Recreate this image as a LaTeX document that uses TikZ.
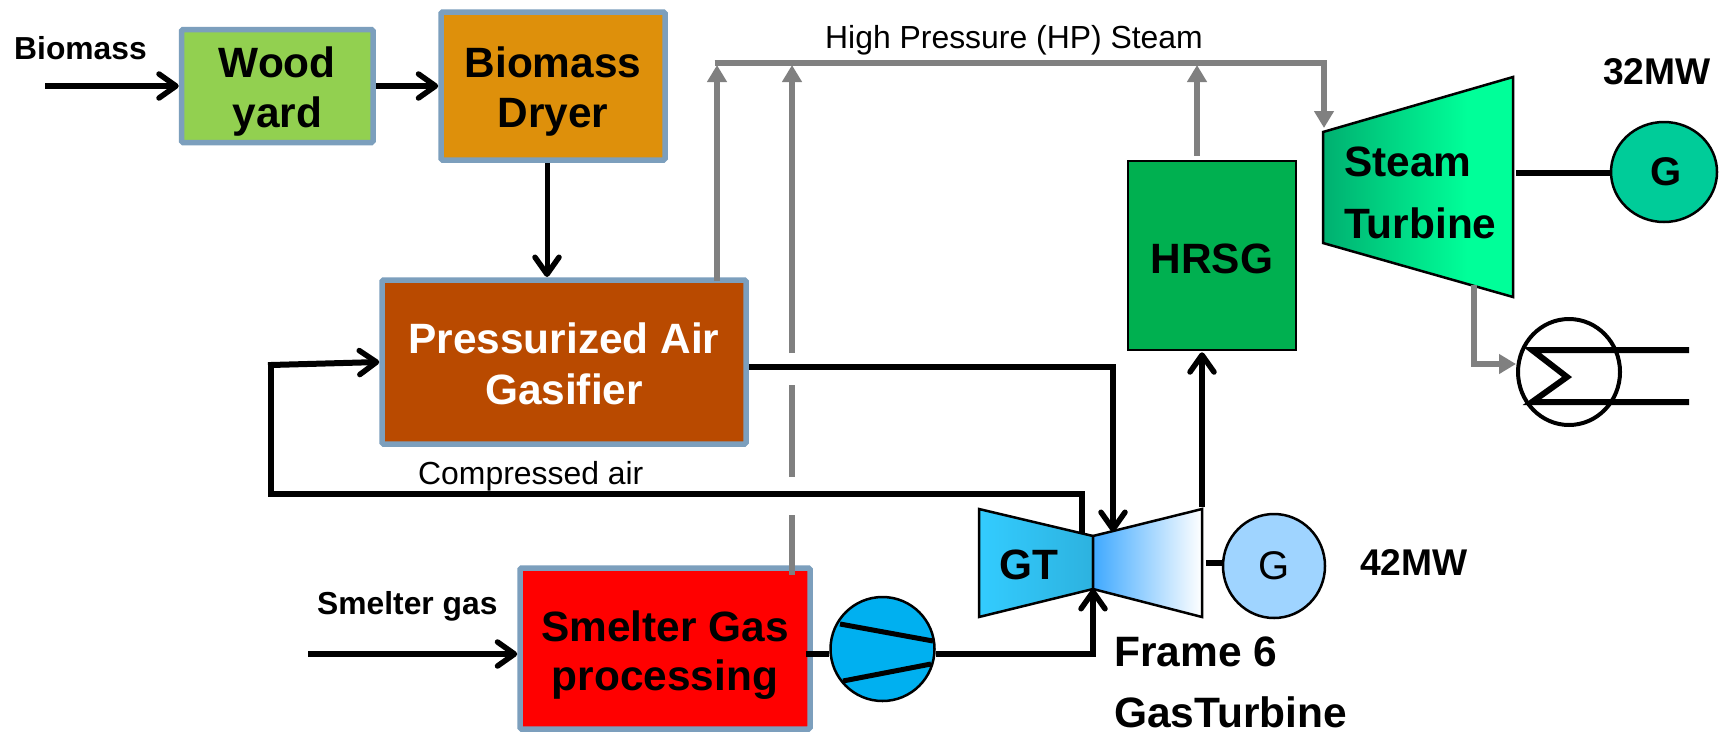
\documentclass[tikz,border=0pt]{standalone}
\usepackage{fontspec}
\setmainfont{Liberation Sans}
\usetikzlibrary{arrows.meta,shapes.geometric}
\definecolor{bord}{HTML}{7C9FBD}
\definecolor{woodc}{HTML}{92D050}
\definecolor{dryerc}{HTML}{DE900B}
\definecolor{gasc}{HTML}{B94A00}
\definecolor{hrsgc}{HTML}{00B050}
\definecolor{pipe}{HTML}{808080}
\definecolor{genA}{HTML}{00CC99}
\definecolor{genB}{HTML}{9FD4FF}
\definecolor{compc}{HTML}{00B0F0}
\definecolor{gtA}{HTML}{33CCFF}
\definecolor{gtB}{HTML}{2DB2DF}
\definecolor{ptA}{HTML}{3FA9FF}
\definecolor{stA}{HTML}{00B070}
\definecolor{stB}{HTML}{00FF99}
\pgfdeclarehorizontalshading{steamsh}{100bp}{color(0bp)=(stA);color(25bp)=(stA);color(63bp)=(stB);color(100bp)=(stB)}
\newcommand\twol[4]{\raisebox{#1pt}[0pt][0pt]{\vbox{\baselineskip=#2pt \lineskiplimit=-100pt \halign{\hfil##\hfil\cr #3\cr #4\cr}}}}
\newcommand\onel[2]{\raisebox{#1pt}[0pt][0pt]{#2}}
\tikzset{
  x=1pt,y=-1pt,
  bigbold/.style={font=\fontsize{42.4}{50}\selectfont\bfseries},
  midbold/.style={font=\fontsize{37.2}{44}\selectfont\bfseries},
  smallbold/.style={font=\fontsize{31.8}{38}\selectfont\bfseries},
  smallreg/.style={font=\fontsize{31.9}{38}\selectfont},
  procbox/.style={draw=bord,line width=5.5pt,rounded corners=1.5pt,inner sep=0pt,bigbold,text=black},
  blackline/.style={draw=black,line width=6pt},
  thinline/.style={draw=black,line width=5pt},
  flow/.style={blackline,-{Straight Barb[length=17pt,width=24pt,line width=5.5pt,round]}},
  pipeline/.style={draw=pipe,line width=5.5pt},
  pipeflow/.style={pipeline,-{Triangle[length=17pt,width=19pt]}},
  machine/.style={draw=black,line width=2.5pt},
  txt/.style={inner sep=0pt,anchor=base},
  txtw/.style={inner sep=0pt,anchor=base west},
}
\begin{document}
\begin{tikzpicture}
\useasboundingbox (0,0) rectangle (1720,731);
\fill[white] (0,0) rectangle (1720,731);

% coordinates for free ends and turbine outlines
\coordinate (bioin) at (45,86);
\coordinate (smin) at (308,654);
\coordinate (airL) at (271,494);
\coordinate (airT) at (271,365);
\coordinate (airR) at (1082,494);
\coordinate (airE) at (1082,534);
\coordinate (fuelC) at (1113,367);
\coordinate (fuelE) at (1113,532);
\coordinate (sgC) at (1093,654);
\coordinate (gtN) at (1093,536);
\coordinate (gtS) at (1093,589);
\coordinate (gtNW) at (979,509);
\coordinate (gtSW) at (979,617);
\coordinate (ptNE) at (1202,509);
\coordinate (ptSE) at (1202,617);
\coordinate (stNW) at (1323,132);
\coordinate (stNE) at (1513,77);
\coordinate (stSE) at (1513,297);
\coordinate (stSW) at (1323,243);
\coordinate (hpL) at (717,63);
\coordinate (hpM) at (792,63);
\coordinate (hpH) at (1197,63);
\coordinate (hpR) at (1324,63);
\coordinate (hpE) at (1324,128);
\coordinate (cTL) at (1532,350);
\coordinate (cMid) at (1567,377);
\coordinate (cBL) at (1532,402);
\coordinate (cTR) at (1689,350);
\coordinate (cBR) at (1689,402);

% boxes
\node[procbox,fill=woodc,minimum width=191.5pt,minimum height=113pt] (wood) at (277.25,86) {\twol{-41}{50}{Wood}{yard}};
\node[procbox,fill=dryerc,minimum width=224pt,minimum height=148pt] (dryer) at (553,86) {\twol{-41}{50}{Biomass}{Dryer}};
\node[procbox,fill=gasc,minimum width=364pt,minimum height=164pt,text=white] (gasifier) at (564,362) {\twol{-42}{51}{Pressurized Air}{Gasifier}};
\node[procbox,fill=red,minimum width=290pt,minimum height=161pt] (smelter) at (665,648.5) {\twol{-41.5}{49}{Smelter Gas}{processing}};
\node[machine,fill=hrsgc,minimum width=168pt,minimum height=189pt,inner sep=0pt,bigbold] (hrsg) at (1212,255.5) {\onel{-17.5}{HRSG}};

% grey steam lines
\draw[pipeline] ([xshift=-2.5pt]hpL) -- ([xshift=2.5pt]hpR);
\coordinate (hpGas) at (gasifier.north -| hpL);
\draw[pipeflow] ([yshift=-4pt]hpGas) -- ([yshift=-2pt]hpL);
\draw[pipeflow,line width=5.5pt] (792,353) -- ([yshift=-2pt]hpM);
\draw[pipeline,line width=6pt] (792,385) -- (792,477);
\draw[pipeline,line width=6.5pt] (792,515) -- (792,575);
\draw[pipeflow] ([yshift=4pt]hrsg.north -| hpH) -- ([yshift=-2pt]hpH);
\draw[pipeflow] (hpR) -- (hpE);

% black connectors, upper part
\draw[flow] (bioin) -- (wood.west |- bioin);
\draw[flow] (wood.east) -- (dryer.west |- wood.east);
\draw[flow,line width=5pt] (dryer.south) ++(-6,0) -- (547,277);
\draw[blackline,line join=miter] (airE) -- (airR) -- (airL) -- (airT);
\draw[flow,shorten <=-3pt] (airT) -- (gasifier.west |- 0,362);

% gas turbine
\draw[machine,shading=axis,left color=gtA,right color=gtB] (gtNW) -- (gtN) -- (gtS) -- (gtSW) -- cycle;
\draw[machine,shading=axis,left color=ptA,right color=white] (gtN) -- (ptNE) -- (ptSE) -- (gtS) -- cycle;
\node[txt,bigbold] (gttxt) at (1029,579) {GT};
\node[machine,ellipse,fill=genB,minimum width=102pt,minimum height=104pt,inner sep=0pt,font=\fontsize{40}{48}\selectfont] (ggas) at (1274,566) {G};
\coordinate (ptOut) at (1206,563);
\draw[blackline] (ptOut) -- (ggas.west |- ptOut);

% compressor
\node[machine,circle,fill=compc,minimum size=104pt,inner sep=0pt] (comp) at (882.5,649) {};
\draw[thinline] (840,624) -- (933,641);
\draw[thinline] (843,681) -- (931,664);

% black connectors, lower part
\draw[flow] (gasifier.east |- fuelC) -- (fuelC) -- (fuelE);
\draw[flow] (smin) -- (smelter.west |- smin);
\draw[blackline] ([xshift=-7pt]smelter.east |- smin) -- (comp.west |- smin);
\draw[flow] (comp.east |- smin) -- (sgC) -- (gtS);
\draw[flow] (1202,507) -- ([yshift=-1pt]hrsg.south -| 1202,0);

% steam turbine
\draw[machine,shading=steamsh] (stNW) -- (stNE) -- (stSE) -- (stSW) -- cycle;
\node[txtw,bigbold] (st1) at (1344,176) {Steam};
\node[txtw,bigbold] (st2) at (1344,238) {Turbine};
\node[machine,ellipse,fill=genA,minimum width=106pt,minimum height=100pt,inner sep=0pt,font=\fontsize{40}{46}\selectfont\bfseries] (gst) at (1664,172) {\kern4pt G};
\coordinate (stOut) at (1516,173);
\draw[blackline] (stOut) -- (gst.west |- stOut);

% condenser
\node[draw=black,line width=4pt,ellipse,minimum width=102pt,minimum height=106pt,inner sep=0pt] (cond) at (1569,372) {};
\draw[blackline,line join=miter] (cTR) -- (cTL) -- (cMid) -- (cBL) -- (cBR);
\coordinate (stEx) at (1474,285);
\coordinate (stExC) at (1474,364);
\draw[pipeflow] (stEx) -- (stExC) -- (cond.west |- stExC);

% labels
\node[txtw,smallbold] (lbio) at (14,59) {Biomass};
\node[txtw,smallbold] (lsm) at (317,614) {Smelter gas};
\node[txtw,smallreg] (lair) at (418,484) {Compressed air};
\node[txtw,smallreg] (lhp) at (825,48) {High Pressure (HP) Steam};
\node[txtw,midbold] (l32) at (1603,84) {32MW};
\node[txtw,midbold] (l42) at (1360,575) {42MW};
\node[txtw,font=\fontsize{42.5}{50}\selectfont\bfseries] (lf1) at (1114,666) {Frame 6};
\node[txtw,font=\fontsize{42.5}{50}\selectfont\bfseries] (lf2) at (1114,727) {GasTurbine};
\end{tikzpicture}
\end{document}
